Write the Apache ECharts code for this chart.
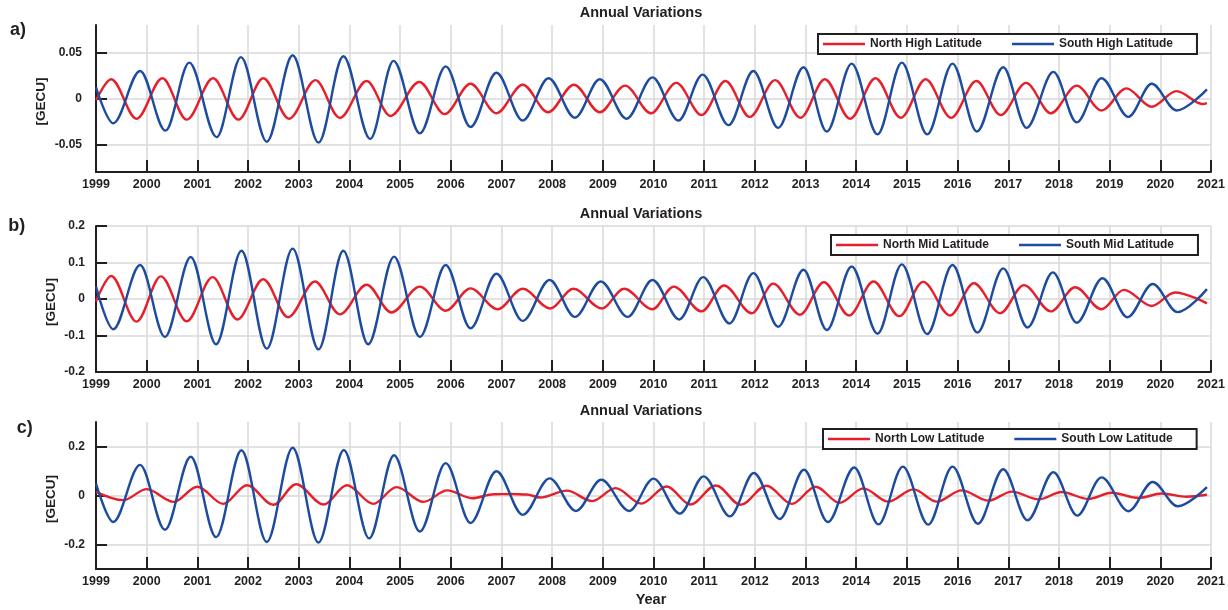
<!DOCTYPE html>
<html>
<head>
<meta charset="utf-8">
<script src="https://cdn.jsdelivr.net/npm/echarts@6/dist/echarts.min.js"></script>
<style>html,body{margin:0;padding:0;background:#fff}#c{width:1228px;height:610px}</style>
</head>
<body>
<div id="c"></div>
<script>
// ---- data: [year, GECU] at the peaks / troughs ----
const northHigh = [[1999.00,-0.002],[1999.30,0.021],[1999.80,-0.022],[2000.31,0.022],[2000.79,-0.023],[2001.31,0.022],[2001.81,-0.023],[2002.30,0.022],[2002.81,-0.022],[2003.33,0.020],[2003.81,-0.021],[2004.34,0.019],[2004.81,-0.019],[2005.38,0.018],[2005.88,-0.017],[2006.39,0.016],[2006.90,-0.016],[2007.42,0.015],[2007.92,-0.015],[2008.43,0.015],[2008.94,-0.015],[2009.44,0.014],[2009.95,-0.016],[2010.45,0.017],[2010.95,-0.018],[2011.42,0.019],[2011.90,-0.020],[2012.40,0.020],[2012.90,-0.021],[2013.38,0.021],[2013.88,-0.022],[2014.38,0.022],[2014.88,-0.021],[2015.37,0.021],[2015.87,-0.021],[2016.37,0.019],[2016.85,-0.018],[2017.35,0.017],[2017.84,-0.016],[2018.35,0.014],[2018.84,-0.013],[2019.33,0.011],[2019.83,-0.009],[2020.32,0.008],[2020.83,-0.006],[2020.92,-0.005]];
const southHigh = [[1999.00,0.012],[1999.34,-0.027],[1999.87,0.030],[2000.37,-0.035],[2000.84,0.039],[2001.38,-0.042],[2001.86,0.045],[2002.37,-0.047],[2002.88,0.047],[2003.39,-0.048],[2003.88,0.046],[2004.41,-0.044],[2004.87,0.041],[2005.39,-0.038],[2005.90,0.035],[2006.39,-0.031],[2006.90,0.028],[2007.42,-0.024],[2007.93,0.022],[2008.45,-0.021],[2008.94,0.021],[2009.47,-0.022],[2009.98,0.023],[2010.49,-0.024],[2010.97,0.026],[2011.48,-0.029],[2011.97,0.030],[2012.46,-0.032],[2012.96,0.034],[2013.42,-0.036],[2013.91,0.038],[2014.42,-0.039],[2014.90,0.039],[2015.40,-0.039],[2015.90,0.038],[2016.38,-0.036],[2016.90,0.034],[2017.36,-0.032],[2017.89,0.029],[2018.35,-0.026],[2018.84,0.022],[2019.37,-0.020],[2019.83,0.016],[2020.32,-0.013],[2020.92,0.010]];
const northMid = [[1999.00,-0.007],[1999.30,0.063],[1999.80,-0.062],[2000.28,0.062],[2000.79,-0.061],[2001.30,0.060],[2001.79,-0.056],[2002.30,0.054],[2002.79,-0.050],[2003.32,0.048],[2003.81,-0.042],[2004.34,0.039],[2004.83,-0.037],[2005.39,0.034],[2005.90,-0.032],[2006.39,0.029],[2006.92,-0.028],[2007.42,0.028],[2007.96,-0.026],[2008.42,0.028],[2008.98,-0.026],[2009.42,0.028],[2009.98,-0.028],[2010.40,0.034],[2010.95,-0.034],[2011.39,0.037],[2011.94,-0.039],[2012.36,0.042],[2012.89,-0.043],[2013.36,0.046],[2013.86,-0.045],[2014.34,0.048],[2014.85,-0.047],[2015.32,0.047],[2015.85,-0.045],[2016.32,0.043],[2016.84,-0.039],[2017.31,0.038],[2017.84,-0.034],[2018.32,0.032],[2018.84,-0.028],[2019.28,0.025],[2019.83,-0.019],[2020.29,0.018],[2020.92,-0.012]];
const southMid = [[1999.00,0.034],[1999.34,-0.083],[1999.87,0.093],[2000.36,-0.104],[2000.87,0.115],[2001.37,-0.124],[2001.87,0.132],[2002.37,-0.136],[2002.88,0.138],[2003.39,-0.138],[2003.88,0.132],[2004.37,-0.124],[2004.88,0.116],[2005.39,-0.104],[2005.90,0.093],[2006.39,-0.080],[2006.90,0.069],[2007.42,-0.060],[2007.95,0.052],[2008.45,-0.049],[2008.96,0.048],[2009.49,-0.049],[2009.98,0.052],[2010.51,-0.056],[2010.98,0.060],[2011.50,-0.067],[2011.97,0.071],[2012.46,-0.076],[2012.96,0.080],[2013.42,-0.085],[2013.91,0.089],[2014.42,-0.095],[2014.90,0.095],[2015.40,-0.096],[2015.90,0.093],[2016.39,-0.092],[2016.90,0.084],[2017.38,-0.078],[2017.88,0.073],[2018.35,-0.065],[2018.86,0.057],[2019.35,-0.050],[2019.85,0.041],[2020.34,-0.036],[2020.92,0.027]];
const northLow = [[1999.00,0.015],[1999.54,-0.019],[2000.00,0.026],[2000.53,-0.026],[2001.00,0.036],[2001.51,-0.034],[2001.98,0.042],[2002.50,-0.038],[2002.95,0.046],[2003.49,-0.037],[2003.95,0.042],[2004.47,-0.034],[2004.93,0.034],[2005.46,-0.026],[2005.93,0.021],[2006.42,-0.011],[2006.85,0.005],[2007.20,0.006],[2007.50,0.004],[2007.76,-0.008],[2008.29,0.020],[2008.79,-0.023],[2009.25,0.030],[2009.76,-0.033],[2010.26,0.037],[2010.73,-0.037],[2011.23,0.041],[2011.72,-0.038],[2012.23,0.040],[2012.73,-0.034],[2013.20,0.036],[2013.67,-0.030],[2014.14,0.029],[2014.63,-0.025],[2015.13,0.025],[2015.59,-0.025],[2016.08,0.021],[2016.61,-0.021],[2017.07,0.016],[2017.60,-0.016],[2018.05,0.014],[2018.58,-0.014],[2019.04,0.011],[2019.57,-0.010],[2020.03,0.008],[2020.52,-0.005],[2020.92,0.003]];
const southLow = [[1999.00,0.049],[1999.34,-0.108],[1999.87,0.125],[2000.36,-0.140],[2000.87,0.158],[2001.37,-0.170],[2001.87,0.185],[2002.37,-0.190],[2002.88,0.195],[2003.39,-0.192],[2003.89,0.186],[2004.39,-0.175],[2004.88,0.164],[2005.39,-0.147],[2005.90,0.132],[2006.39,-0.112],[2006.90,0.099],[2007.42,-0.079],[2007.95,0.070],[2008.47,-0.063],[2008.97,0.064],[2009.52,-0.063],[2010.00,0.069],[2010.52,-0.074],[2010.99,0.078],[2011.51,-0.085],[2011.98,0.092],[2012.49,-0.096],[2012.97,0.105],[2013.44,-0.108],[2013.96,0.114],[2014.44,-0.118],[2014.92,0.118],[2015.42,-0.119],[2015.90,0.118],[2016.40,-0.115],[2016.90,0.107],[2017.38,-0.101],[2017.89,0.095],[2018.36,-0.082],[2018.84,0.074],[2019.37,-0.064],[2019.85,0.055],[2020.34,-0.044],[2020.92,0.034]];

const seriesNames = [['North High Latitude','South High Latitude'],['North Mid Latitude','South Mid Latitude'],['North Low Latitude','South Low Latitude']];
const panelLabels = ['a)','b)','c)'];
const panelTitle = 'Annual Variations';
const yUnit = '[GECU]';
const xName = 'Year';
const yTicksA = [-0.05, 0, 0.05];
const yTicksB = [-0.2, -0.1, 0, 0.1, 0.2];
const yTicksC = [-0.2, 0, 0.2];
const yRanges = [[-0.08, 0.08], [-0.2, 0.2], [-0.3, 0.3]];
const yearRange = [1999, 2021];

// ---- styling ----
const FONT = '"Liberation Sans", Arial, Helvetica, sans-serif';
const INK = '#231f20';
const GRIDC = '#d9d9d9';
const RED = '#e5202b';
const BLUE = '#1d4c9e';

const gridBoxes = [{top:25, height:147}, {top:226, height:146}, {top:422, height:147}];
const yTickSets = [yTicksA, yTicksB, yTicksC];
const yLabelMargin = [14, 11, 11];

const chart = echarts.init(document.getElementById('c'), null, {renderer:'canvas'});

const grid = gridBoxes.map(g => ({left:96, right:17, top:g.top, height:g.height, outerBoundsMode:'none'}));

const xAxis = gridBoxes.map((g, i) => ({
  type:'value', gridIndex:i, min:yearRange[0], max:yearRange[1], interval:1,
  axisLine:{show:true, onZero:false, lineStyle:{color:INK, width:2}},
  axisTick:{show:true, inside:true, length:12, lineStyle:{color:INK, width:2}},
  axisLabel:{show:true, margin:6, color:INK, fontFamily:FONT, fontWeight:'bold', fontSize:12.5, formatter:v => String(v)},
  splitLine:{show:true, lineStyle:{color:GRIDC, width:1.5}}
}));

const yAxis = gridBoxes.map((g, i) => ({
  type:'value', gridIndex:i, min:yRanges[i][0], max:yRanges[i][1],
  axisLine:{show:true, onZero:false, lineStyle:{color:INK, width:2}},
  axisTick:{show:true, inside:true, length:11, lineStyle:{color:INK, width:2}, customValues:yTickSets[i]},
  axisLabel:{show:true, margin:yLabelMargin[i], color:INK, fontFamily:FONT, fontWeight:'bold', fontSize:12, customValues:yTickSets[i],
    formatter:v => String(Math.round(v*1000)/1000)},
  splitLine:{show:true, lineStyle:{color:GRIDC, width:1.5}}
}));

const dataSets = [[northHigh, southHigh], [northMid, southMid], [northLow, southLow]];
const series = [];
dataSets.forEach((pair, i) => {
  pair.forEach((d, j) => {
    series.push({
      name: seriesNames[i][j], type:'line', xAxisIndex:i, yAxisIndex:i, data:d,
      symbol:'none', showSymbol:false, smooth:0.34, smoothMonotone:'x',
      lineStyle:{color: j === 0 ? RED : BLUE, width:2.4}, itemStyle:{color: j === 0 ? RED : BLUE},
      z: 2 + j, silent:true
    });
  });
});

const legendPos = [{left:818, top:34}, {left:831, top:235}, {left:823, top:429}];
const legend = legendPos.map((p, i) => ({
  left:p.left, top:p.top, orient:'horizontal', data:seriesNames[i], selectedMode:false,
  icon:'rect', itemWidth:42, itemHeight:2.6, itemGap:30, padding:[4, 24, 4, 5],
  backgroundColor:'#fff', borderColor:INK, borderWidth:2, borderRadius:0,
  textStyle:{fontFamily:FONT, fontWeight:'bold', fontSize:12, color:INK}
}));

const titleY = [13.3, 214, 411];
const labelPos = [{x:10, y:30.5}, {x:8.3, y:226}, {x:16.7, y:428}];
const unitPos = [{x:41.7, y:101.5}, {x:51, y:302}, {x:51, y:499}];
const graphic = [];
titleY.forEach(y => graphic.push({type:'text', x:641, y:y, silent:true,
  style:{text:panelTitle, fill:INK, fontFamily:FONT, fontWeight:'bold', fontSize:14.5, align:'center', verticalAlign:'middle', textAlign:'center', textVerticalAlign:'middle'}}));
labelPos.forEach((p, i) => graphic.push({type:'text', x:p.x, y:p.y, silent:true,
  style:{text:panelLabels[i], fill:INK, fontFamily:FONT, fontWeight:'bold', fontSize:18, align:'left', verticalAlign:'middle', textAlign:'left', textVerticalAlign:'middle'}}));
unitPos.forEach(p => graphic.push({type:'text', x:p.x, y:p.y, rotation:Math.PI/2, silent:true,
  style:{text:yUnit, fill:INK, fontFamily:FONT, fontWeight:'bold', fontSize:13.5, align:'center', verticalAlign:'middle', textAlign:'center', textVerticalAlign:'middle'}}));
graphic.push({type:'text', x:651, y:599.5, silent:true,
  style:{text:xName, fill:INK, fontFamily:FONT, fontWeight:'bold', fontSize:14.5, align:'center', verticalAlign:'middle', textAlign:'center', textVerticalAlign:'middle'}});

chart.setOption({
  animation:false,
  backgroundColor:'#fff',
  grid, xAxis, yAxis, series, legend, graphic
});
</script>
</body>
</html>
